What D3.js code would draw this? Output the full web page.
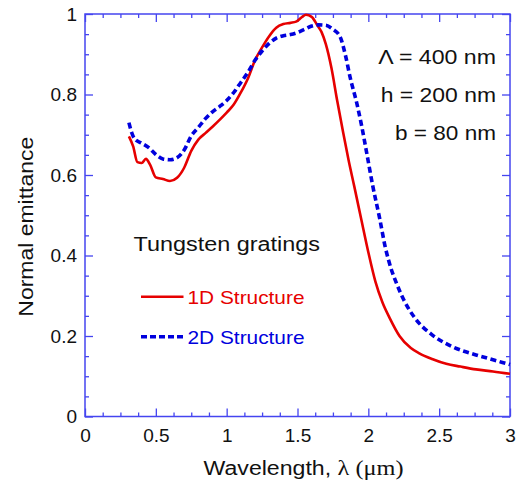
<!DOCTYPE html>
<html>
<head>
<meta charset="utf-8">
<script src="https://cdn.jsdelivr.net/npm/d3@7"></script>
<style>
  html, body { margin: 0; padding: 0; background: #fff; }
  svg { display: block; font-family: "Liberation Sans", Arial, sans-serif; }
</style>
</head>
<body>
<svg id="chart" width="530" height="482"></svg>
<script>
// ---- data ----
const wl1D = [0.31,0.34,0.37,0.40,0.43,0.46,0.50,0.55,0.60,0.65,0.70,0.75,0.80,0.85,0.90,0.95,1.00,1.05,1.10,1.15,1.20,1.25,1.30,1.35,1.40,1.45,1.49,1.53,1.56,1.60,1.64,1.67,1.70,1.74,1.78,1.82,1.86,1.90,1.95,2.00,2.05,2.10,2.15,2.22,2.30,2.36,2.45,2.55,2.65,2.76,2.88,3.00];
const em1D = [0.696,0.671,0.632,0.630,0.640,0.625,0.594,0.590,0.585,0.593,0.618,0.660,0.688,0.704,0.720,0.737,0.755,0.775,0.805,0.840,0.885,0.917,0.945,0.966,0.975,0.978,0.981,0.992,0.998,0.993,0.972,0.955,0.925,0.865,0.785,0.710,0.638,0.573,0.490,0.408,0.335,0.283,0.245,0.200,0.170,0.157,0.143,0.131,0.124,0.117,0.112,0.106];

const wl2D = [0.31,0.33,0.35,0.40,0.45,0.50,0.55,0.60,0.65,0.70,0.75,0.80,0.85,0.90,0.95,1.00,1.05,1.10,1.15,1.20,1.25,1.30,1.35,1.40,1.45,1.50,1.55,1.60,1.65,1.70,1.75,1.80,1.84,1.87,1.92,1.95,1.99,2.03,2.08,2.12,2.16,2.20,2.25,2.33,2.45,2.59,2.76,2.88,3.00];
const em2D = [0.730,0.705,0.690,0.679,0.668,0.651,0.640,0.638,0.643,0.662,0.697,0.718,0.740,0.757,0.770,0.785,0.805,0.830,0.855,0.885,0.908,0.927,0.940,0.946,0.949,0.954,0.962,0.970,0.973,0.972,0.962,0.944,0.895,0.845,0.776,0.727,0.652,0.575,0.492,0.420,0.368,0.330,0.290,0.244,0.203,0.174,0.153,0.141,0.129];

const xMajorTicks = [0,0.5,1,1.5,2,2.5,3];
const xTickLabels = ["0","0.5","1","1.5","2","2.5","3"];
const yMajorTicks = [0,0.2,0.4,0.6,0.8,1];
const yTickLabels = ["0","0.2","0.4","0.6","0.8","1"];

const seriesNames = ["1D Structure","2D Structure"];
const legendTitle = "Tungsten gratings";
const annotations = ["\u039B = 400 nm","h = 200 nm","b = 80 nm"];
const xLabelMain = "Wavelength, ";
const xLabelSym = "\u03BB (\u03BCm)";
const yLabel = "Normal emittance";

// ---- layout ----
const L = 85, R = 510, T = 14, B = 416.5;
const axisColor = "#4545f0";
const red = "#e60000", blue = "#0000dd";

const svg = d3.select("#chart");
const x = d3.scaleLinear().domain([0,3]).range([L,R]);
const y = d3.scaleLinear().domain([0,1]).range([B,T]);

const xMinor = d3.range(0, 3.0001, 0.125).filter(v => Math.abs(v*2 - Math.round(v*2)) > 1e-6);
const yMinor = d3.range(0, 1.0001, 0.05).filter(v => Math.abs(v*5 - Math.round(v*5)) > 1e-6);

function styleAxis(g) {
  g.select(".domain").remove();
  g.selectAll("line").attr("stroke", axisColor).attr("stroke-width", 1.3);
  g.selectAll("text").attr("fill", "#111").attr("font-size", 19).attr("font-family", "Liberation Sans, Arial, sans-serif");
}

// bottom
svg.append("g").attr("transform", `translate(0,${B})`)
  .call(d3.axisBottom(x).tickValues(xMajorTicks).tickFormat((d,i) => xTickLabels[i]).tickSize(-8).tickPadding(12.5))
  .call(styleAxis);
svg.append("g").attr("transform", `translate(0,${B})`)
  .call(d3.axisBottom(x).tickValues(xMinor).tickFormat("").tickSize(-4))
  .call(styleAxis);
// top
svg.append("g").attr("transform", `translate(0,${T})`)
  .call(d3.axisTop(x).tickValues(xMajorTicks).tickFormat("").tickSize(-8))
  .call(styleAxis);
svg.append("g").attr("transform", `translate(0,${T})`)
  .call(d3.axisTop(x).tickValues(xMinor).tickFormat("").tickSize(-4))
  .call(styleAxis);
// left
svg.append("g").attr("transform", `translate(${L},0)`)
  .call(d3.axisLeft(y).tickValues(yMajorTicks).tickFormat((d,i) => yTickLabels[i]).tickSize(-8).tickPadding(8))
  .call(styleAxis);
svg.append("g").attr("transform", `translate(${L},0)`)
  .call(d3.axisLeft(y).tickValues(yMinor).tickFormat("").tickSize(-4))
  .call(styleAxis);
// right
svg.append("g").attr("transform", `translate(${R},0)`)
  .call(d3.axisRight(y).tickValues(yMajorTicks).tickFormat("").tickSize(-8))
  .call(styleAxis);
svg.append("g").attr("transform", `translate(${R},0)`)
  .call(d3.axisRight(y).tickValues(yMinor).tickFormat("").tickSize(-4))
  .call(styleAxis);

// frame
svg.append("rect").attr("x", L).attr("y", T).attr("width", R-L).attr("height", B-T)
  .attr("fill", "none").attr("stroke", axisColor).attr("stroke-width", 1.5);

// curves
const line = d3.line().x(d => x(d[0])).y(d => y(d[1])).curve(d3.curveMonotoneX);
const d1 = wl1D.map((w,i) => [w, em1D[i]]);
const d2 = wl2D.map((w,i) => [w, em2D[i]]);

svg.append("path").datum(d1).attr("d", line)
  .attr("fill", "none").attr("stroke", red).attr("stroke-width", 2.6).attr("stroke-linejoin", "round");
svg.append("path").datum(d2).attr("d", line)
  .attr("fill", "none").attr("stroke", blue).attr("stroke-width", 3.6).attr("stroke-dasharray", "6,3.5");

// annotations (right aligned)
const annBase = [63.5, 101.7, 140];
const annLen = [117.7, 115.3, 101];
annotations.forEach((t, i) => {
  svg.append("text").attr("x", 496).attr("y", annBase[i]).attr("text-anchor", "end")
    .attr("font-size", 21).attr("fill", "#111")
    .attr("textLength", annLen[i]).attr("lengthAdjust", "spacingAndGlyphs")
    .text(t);
});

// legend
svg.append("text").attr("x", 133.5).attr("y", 250.7).attr("font-size", 20).attr("fill", "#111")
  .attr("textLength", 186.5).attr("lengthAdjust", "spacingAndGlyphs").text(legendTitle);

const legY = [296.7, 336.7];
const legBase = [303.5, 344];
const legColors = [red, blue];
seriesNames.forEach((name, i) => {
  svg.append("line").attr("x1", 141).attr("x2", 183.5).attr("y1", legY[i]).attr("y2", legY[i])
    .attr("stroke", legColors[i]).attr("stroke-width", i === 0 ? 2.6 : 3.6)
    .attr("stroke-dasharray", i === 0 ? null : "6,3");
  svg.append("text").attr("x", 187.5).attr("y", legBase[i]).attr("font-size", 19).attr("fill", legColors[i])
    .attr("textLength", 117).attr("lengthAdjust", "spacingAndGlyphs").text(name);
});

// axis labels
const xl = svg.append("text").attr("x", 303.5).attr("y", 474.5).attr("text-anchor", "middle")
  .attr("font-size", 20).attr("fill", "#111");
xl.append("tspan").text(xLabelMain);
xl.append("tspan").attr("font-family", "Liberation Serif, Times New Roman, serif").attr("font-size", 21).text(xLabelSym);
xl.attr("textLength", 200).attr("lengthAdjust", "spacingAndGlyphs");

svg.append("text").attr("transform", "translate(33,226.7) rotate(-90)").attr("text-anchor", "middle")
  .attr("font-size", 20).attr("fill", "#111")
  .attr("textLength", 180).attr("lengthAdjust", "spacingAndGlyphs").text(yLabel);
</script>
</body>
</html>
